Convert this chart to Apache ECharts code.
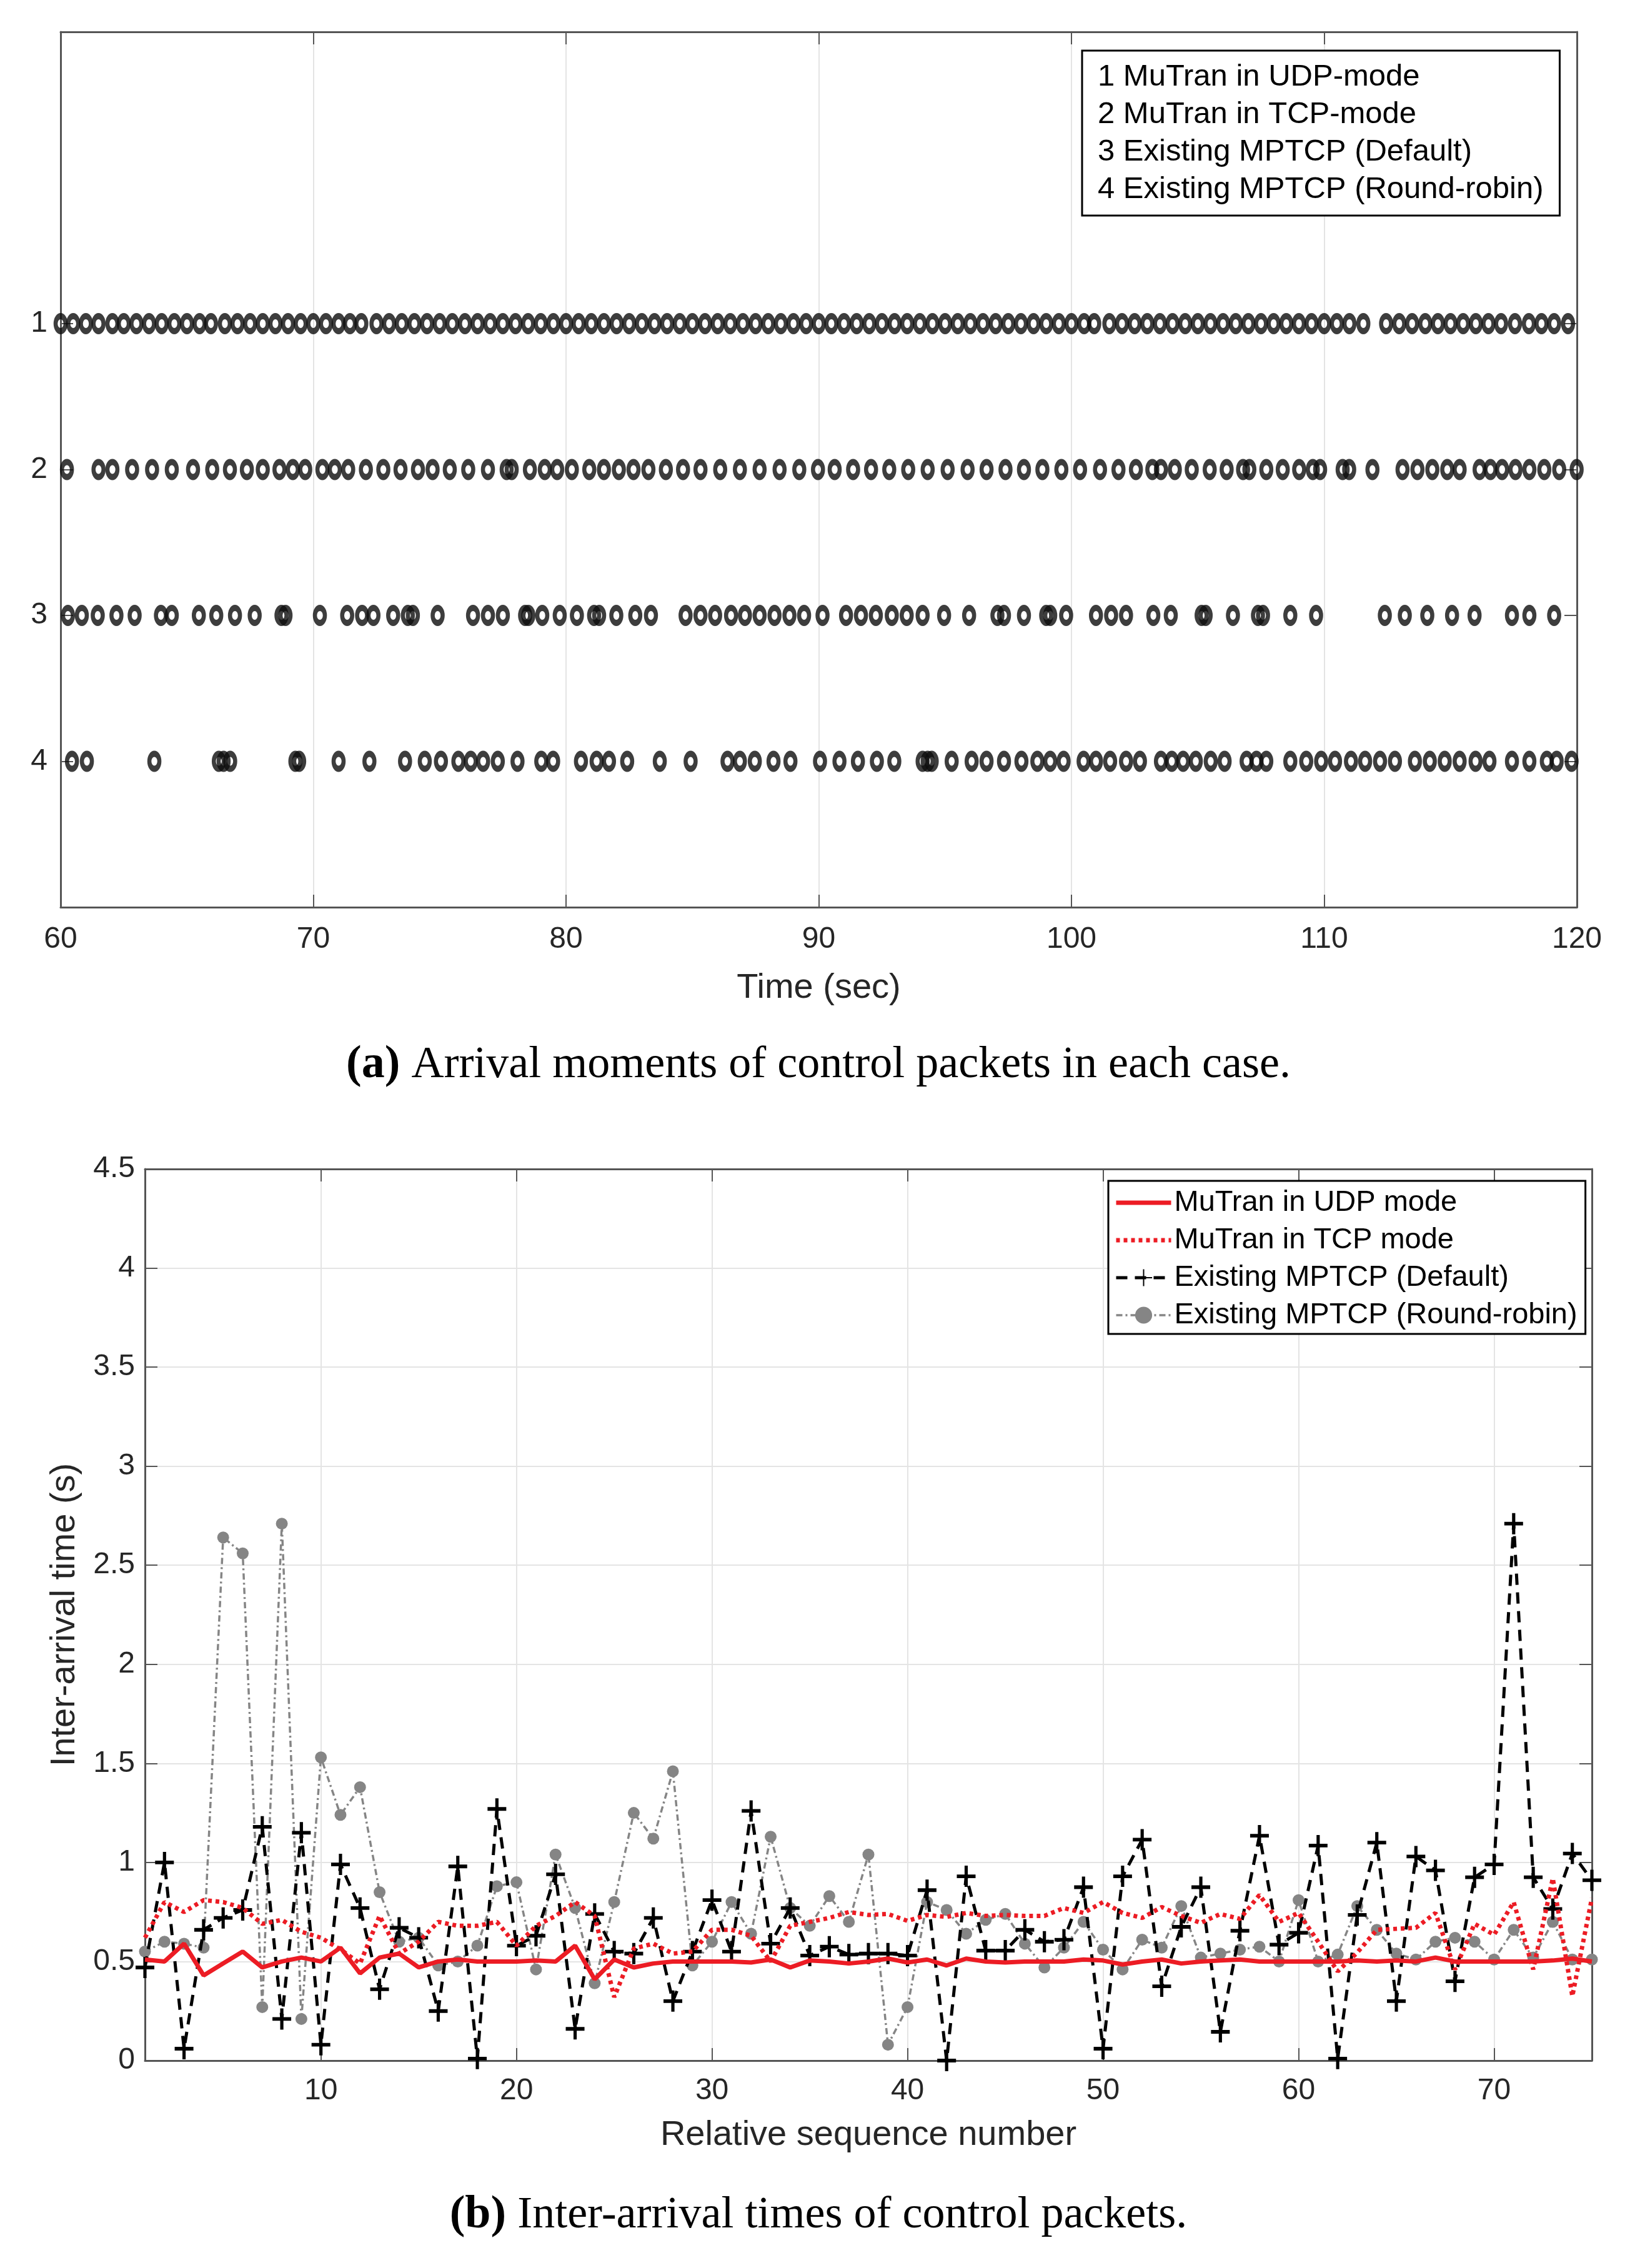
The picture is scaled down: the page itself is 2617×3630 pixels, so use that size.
<!DOCTYPE html>
<html>
<head>
<meta charset="utf-8">
<script src="https://cdn.jsdelivr.net/npm/echarts@6/dist/echarts.min.js"></script>
<style>
html,body{margin:0;padding:0;background:#ffffff;}
#chart{width:2617px;height:3630px;}
</style>
</head>
<body>
<div id="chart"></div>
<script>
// ---------------- DATA ----------------
// (a) arrival moments (sec) of control packets, one array per case (row)
const rowTicks = [1, 2, 3, 4];
const topNames = ['1 MuTran in UDP-mode', '2 MuTran in TCP-mode', '3 Existing MPTCP (Default)', '4 Existing MPTCP (Round-robin)'];
const arrivalsUDP = [60.0, 60.5, 61.0, 61.5, 62.05, 62.5, 63.0, 63.5, 64.0, 64.5, 65.0, 65.5, 65.95, 66.5, 67.0, 67.5, 68.0, 68.5, 69.0, 69.5, 70.0, 70.5, 71.0, 71.45, 71.9, 72.5, 73.0, 73.5, 74.0, 74.5, 75.0, 75.5, 76.0, 76.5, 77.0, 77.5, 78.0, 78.5, 79.0, 79.5, 80.0, 80.5, 81.0, 81.5, 82.0, 82.5, 83.0, 83.5, 84.0, 84.5, 85.0, 85.5, 86.0, 86.5, 87.0, 87.5, 88.0, 88.5, 89.0, 89.5, 90.0, 90.5, 91.0, 91.5, 92.0, 92.5, 93.0, 93.5, 94.0, 94.5, 95.0, 95.5, 96.0, 96.5, 97.0, 97.5, 98.0, 98.5, 99.0, 99.5, 100.0, 100.5, 100.9, 101.5, 102.0, 102.5, 103.0, 103.5, 104.0, 104.5, 105.0, 105.5, 106.0, 106.5, 107.0, 107.5, 108.0, 108.5, 109.0, 109.5, 110.0, 110.5, 111.0, 111.55, 112.45, 112.97, 113.48, 114.0, 114.5, 115.0, 115.5, 116.0, 116.5, 117.0, 117.55, 118.1, 118.6, 119.1, 119.65];
const arrivalsTCP = [60.25, 61.5, 62.05, 62.83, 63.62, 64.4, 65.24, 66.0, 66.7, 67.37, 68.0, 68.66, 69.19, 69.68, 70.36, 70.85, 71.38, 72.08, 72.77, 73.45, 74.14, 74.72, 75.4, 76.13, 76.91, 77.65, 77.85, 78.57, 79.16, 79.65, 80.23, 80.92, 81.5, 82.09, 82.67, 83.26, 83.95, 84.63, 85.32, 86.1, 86.88, 87.66, 88.45, 89.23, 89.97, 90.63, 91.36, 92.07, 92.79, 93.54, 94.31, 95.1, 95.89, 96.64, 97.39, 98.12, 98.85, 99.6, 100.34, 101.13, 101.86, 102.55, 103.2, 103.54, 104.09, 104.76, 105.47, 106.14, 106.79, 107.04, 107.71, 108.36, 109.01, 109.55, 109.84, 110.73, 110.99, 111.91, 113.1, 113.69, 114.28, 114.87, 115.36, 116.15, 116.58, 117.04, 117.57, 118.12, 118.71, 119.3, 119.99];
const arrivalsDefault = [60.29, 60.84, 61.47, 62.21, 62.93, 63.97, 64.4, 65.47, 66.16, 66.9, 67.68, 68.74, 68.9, 70.26, 71.34, 71.93, 72.38, 73.16, 73.74, 73.94, 74.92, 76.32, 76.91, 77.5, 78.38, 78.51, 79.06, 79.75, 80.43, 81.11, 81.31, 81.99, 82.74, 83.36, 84.73, 85.32, 85.9, 86.53, 87.08, 87.66, 88.25, 88.84, 89.42, 90.15, 91.08, 91.67, 92.26, 92.89, 93.48, 94.11, 94.96, 95.95, 97.07, 97.33, 98.12, 99.0, 99.16, 99.79, 100.97, 101.57, 102.16, 103.24, 103.93, 105.15, 105.31, 106.39, 107.38, 107.58, 108.66, 109.68, 112.4, 113.19, 114.08, 115.06, 115.95, 117.43, 118.12, 119.1];
const arrivalsRR = [60.45, 61.04, 63.71, 66.26, 66.45, 66.71, 69.29, 69.44, 71.0, 72.22, 73.63, 74.41, 75.05, 75.74, 76.23, 76.72, 77.3, 78.08, 79.02, 79.49, 80.59, 81.21, 81.7, 82.42, 83.71, 84.93, 86.39, 86.88, 87.47, 88.21, 88.88, 90.05, 90.82, 91.55, 92.3, 92.99, 94.11, 94.31, 94.47, 95.26, 96.05, 96.64, 97.33, 98.02, 98.65, 99.16, 99.69, 100.48, 100.97, 101.53, 102.16, 102.71, 103.54, 103.97, 104.42, 104.92, 105.51, 106.06, 106.93, 107.32, 107.71, 108.66, 109.29, 109.88, 110.43, 111.06, 111.62, 112.21, 112.8, 113.59, 114.18, 114.77, 115.36, 115.99, 116.54, 117.43, 118.12, 118.81, 119.2, 119.79];

// (b) inter-arrival times (s) vs relative sequence number
const bottomNames = ['MuTran in UDP mode', 'MuTran in TCP mode', 'Existing MPTCP (Default)', 'Existing MPTCP (Round-robin)'];
const seqNumbers = [1,2,3,4,5,6,7,8,9,10,11,12,13,14,15,16,17,18,19,20,21,22,23,24,25,26,27,28,29,30,31,32,33,34,35,36,37,38,39,40,41,42,43,44,45,46,47,48,49,50,51,52,53,54,55,56,57,58,59,60,61,62,63,64,65,66,67,68,69,70,71,72,73,74,75];
const seqTicks = [10, 20, 30, 40, 50, 60, 70];
const interUDP = [0.51, 0.50, 0.59, 0.43, 0.49, 0.55, 0.47, 0.50, 0.52, 0.50, 0.57, 0.44, 0.52, 0.54, 0.47, 0.50, 0.51, 0.50, 0.50, 0.50,
  0.505, 0.50, 0.58, 0.41, 0.51, 0.47, 0.49, 0.50, 0.50, 0.50, 0.50, 0.495, 0.51, 0.47, 0.505, 0.50, 0.49, 0.50, 0.515, 0.495,
  0.51, 0.48, 0.515, 0.50, 0.495, 0.50, 0.50, 0.50, 0.51, 0.505, 0.485, 0.50, 0.51, 0.49, 0.50, 0.505, 0.51, 0.50, 0.50, 0.50,
  0.50, 0.50, 0.505, 0.50, 0.505, 0.50, 0.52, 0.50, 0.50, 0.50, 0.50, 0.50, 0.505, 0.515, 0.50];
const interTCP = [0.62, 0.80, 0.75, 0.81, 0.80, 0.77, 0.69, 0.71, 0.65, 0.62, 0.56, 0.49, 0.73, 0.54, 0.60, 0.70, 0.68, 0.68, 0.70, 0.58,
  0.68, 0.73, 0.80, 0.73, 0.32, 0.565, 0.59, 0.54, 0.55, 0.66, 0.66, 0.63, 0.50, 0.68, 0.70, 0.72, 0.75, 0.735, 0.74, 0.705,
  0.735, 0.725, 0.745, 0.73, 0.735, 0.73, 0.73, 0.77, 0.745, 0.80, 0.745, 0.72, 0.775, 0.73, 0.695, 0.74, 0.715, 0.836, 0.70, 0.745,
  0.60, 0.45, 0.545, 0.66, 0.665, 0.67, 0.745, 0.46, 0.69, 0.635, 0.80, 0.46, 0.92, 0.325, 0.82];
const interDefault = [0.47, 1.00, 0.06, 0.66, 0.72, 0.76, 1.18, 0.21, 1.15, 0.08, 0.99, 0.77, 0.36, 0.67, 0.62, 0.25, 0.98, 0.01, 1.27, 0.58,
  0.63, 0.94, 0.16, 0.74, 0.55, 0.54, 0.72, 0.30, 0.55, 0.81, 0.55, 1.26, 0.59, 0.77, 0.53, 0.575, 0.535, 0.54, 0.54, 0.53,
  0.86, 0.00, 0.93, 0.555, 0.555, 0.66, 0.60, 0.61, 0.875, 0.06, 0.93, 1.115, 0.375, 0.675, 0.875, 0.145, 0.655, 1.135, 0.585, 0.645,
  1.085, 0.01, 0.735, 1.10, 0.30, 1.03, 0.96, 0.40, 0.925, 0.99, 2.71, 0.925, 0.765, 1.045, 0.91];
const interRR = [0.55, 0.60, 0.59, 0.57, 2.64, 2.56, 0.27, 2.71, 0.21, 1.53, 1.24, 1.38, 0.85, 0.60, 0.62, 0.48, 0.50, 0.58, 0.88, 0.90,
  0.46, 1.04, 0.77, 0.39, 0.80, 1.25, 1.12, 1.46, 0.48, 0.60, 0.80, 0.64, 1.13, 0.77, 0.68, 0.83, 0.70, 1.04, 0.08, 0.27,
  0.80, 0.76, 0.64, 0.71, 0.74, 0.59, 0.47, 0.57, 0.70, 0.56, 0.46, 0.61, 0.57, 0.78, 0.52, 0.54, 0.56, 0.575, 0.50, 0.81,
  0.50, 0.535, 0.78, 0.66, 0.54, 0.51, 0.60, 0.62, 0.60, 0.51, 0.66, 0.52, 0.70, 0.51, 0.51];

// ---------------- STYLE ----------------
const FONT = 'Liberation Sans';
const SERIF = 'Liberation Serif';
const axisCol = '#555555';
const txtCol = '#262626';
const gridCol = '#e4e4e4';
const red = '#ec1c24';
const grey = '#858585';

const udpLine = { color: red, width: 7 };
const tcpLine = { color: red, width: 7, type: [6, 6] };
const defLine = { color: '#000', width: 5, type: [18, 12] };
const rrLine = { color: grey, width: 3.5, type: [10, 5, 3, 5] };

function frameAxis(base) {
  return Object.assign({
    type: 'value',
    axisLine: { show: true, onZero: false, lineStyle: { color: axisCol, width: 3 } },
    axisTick: { show: true, inside: true, length: 20, lineStyle: { color: axisCol, width: 2 } },
    axisLabel: { show: false },
    splitLine: { show: false }
  }, base);
}
const tickLabel = { fontSize: 48, fontFamily: FONT, color: txtCol };
const nameStyle = { fontSize: 56, fontFamily: FONT, color: txtCol };

const chart = echarts.init(document.getElementById('chart'), null, { renderer: 'canvas' });

const option = {
  animation: false,
  backgroundColor: '#ffffff',
  grid: [
    { left: 97, top: 51, width: 2427, height: 1401 },
    { left: 232, top: 1871, width: 2316, height: 1427 }
  ],
  xAxis: [
    frameAxis({
      gridIndex: 0, min: 60, max: 120, interval: 10, position: 'bottom',
      axisLabel: Object.assign({ show: true, margin: 28 }, tickLabel),
      splitLine: { show: true, lineStyle: { color: gridCol, width: 2 } },
      name: 'Time (sec)', nameLocation: 'middle', nameGap: 102, nameTextStyle: nameStyle
    }),
    frameAxis({ gridIndex: 0, min: 60, max: 120, interval: 10, position: 'top' }),
    frameAxis({
      gridIndex: 1, min: 1, max: 75, position: 'bottom',
      axisTick: { show: true, inside: true, length: 20, customValues: seqTicks, lineStyle: { color: axisCol, width: 2 } },
      axisLabel: Object.assign({ show: true, margin: 25, customValues: seqTicks }, tickLabel),
      splitLine: { show: true, lineStyle: { color: gridCol, width: 2 } },
      name: 'Relative sequence number', nameLocation: 'middle', nameGap: 92, nameTextStyle: nameStyle
    }),
    frameAxis({
      gridIndex: 1, min: 1, max: 75, position: 'top',
      axisTick: { show: true, inside: true, length: 20, customValues: seqTicks, lineStyle: { color: axisCol, width: 2 } }
    })
  ],
  yAxis: [
    frameAxis({
      gridIndex: 0, min: -1, max: 5, interval: 1, inverse: true, position: 'left',
      axisTick: { show: true, inside: true, length: 20, customValues: rowTicks, lineStyle: { color: axisCol, width: 2 } },
      axisLabel: Object.assign({ show: true, margin: 21, customValues: rowTicks }, tickLabel)
    }),
    frameAxis({
      gridIndex: 0, min: -1, max: 5, interval: 1, inverse: true, position: 'right',
      axisTick: { show: true, inside: true, length: 20, customValues: rowTicks, lineStyle: { color: axisCol, width: 2 } }
    }),
    frameAxis({
      gridIndex: 1, min: 0, max: 4.5, interval: 0.5, position: 'left',
      axisLabel: Object.assign({ show: true, margin: 16 }, tickLabel),
      splitLine: { show: true, lineStyle: { color: gridCol, width: 2 } },
      name: 'Inter-arrival time (s)', nameLocation: 'middle', nameGap: 100, nameRotate: 90, nameTextStyle: nameStyle
    }),
    frameAxis({ gridIndex: 1, min: 0, max: 4.5, interval: 0.5, position: 'right' })
  ],
  legend: [
    {
      data: [
        { name: bottomNames[0], itemStyle: { opacity: 0 }, lineStyle: udpLine },
        { name: bottomNames[1], itemStyle: { opacity: 0 }, lineStyle: tcpLine },
        { name: bottomNames[2], lineStyle: defLine },
        { name: bottomNames[3], lineStyle: rrLine }
      ],
      orient: 'vertical', left: 1774, top: 1890,
      padding: [5, 13, 0, 9], itemWidth: 88, itemHeight: 34, itemGap: 0,
      borderColor: '#000', borderWidth: 3, backgroundColor: '#fff',
      selectedMode: false,
      textStyle: { fontSize: 47, fontFamily: FONT, color: '#000', lineHeight: 60 }
    },
    {
      data: topNames, orient: 'vertical', left: 1732, top: 81,
      padding: [12, 26, 12, 19], itemWidth: 0, itemHeight: 0, itemGap: 0, icon: 'rect',
      borderColor: '#000', borderWidth: 3, backgroundColor: '#fff',
      selectedMode: false,
      textStyle: { fontSize: 49, fontFamily: FONT, color: '#000', lineHeight: 60 }
    }
  ],
  graphic: [
    {
      type: 'text', x: 1310, y: 1705,
      style: {
        text: '{b|(a)} Arrival moments of control packets in each case.',
        fontSize: 72, fontFamily: SERIF, fill: '#000', align: 'center', verticalAlign: 'middle',
        rich: { b: { fontSize: 74, fontFamily: SERIF, fontWeight: 'bold', fill: '#000' } }
      }
    },
    {
      type: 'text', x: 1310, y: 3546,
      style: {
        text: '{b|(b)} Inter-arrival times of control packets.',
        fontSize: 72, fontFamily: SERIF, fill: '#000', align: 'center', verticalAlign: 'middle',
        rich: { b: { fontSize: 74, fontFamily: SERIF, fontWeight: 'bold', fill: '#000' } }
      }
    }
  ],
  series: []
};

const rows = [arrivalsUDP, arrivalsTCP, arrivalsDefault, arrivalsRR];
rows.forEach(function (arr, k) {
  option.series.push({
    type: 'scatter', name: topNames[k], xAxisIndex: 0, yAxisIndex: 0,
    data: arr.map(function (t) { return [t, rowTicks[k]]; }),
    symbol: 'circle', symbolSize: [16, 24],
    itemStyle: { color: 'rgba(0,0,0,0)', borderColor: '#0d0d0d', borderWidth: 8 },
    emphasis: { disabled: true }
  });
});

function pairs(vals) { return seqNumbers.map(function (s, i) { return [s, vals[i]]; }); }

option.series.push(
  {
    type: 'line', name: bottomNames[0], xAxisIndex: 2, yAxisIndex: 2, data: pairs(interUDP),
    symbol: 'none', lineStyle: udpLine, itemStyle: { color: red }, z: 5
  },
  {
    type: 'line', name: bottomNames[1], xAxisIndex: 2, yAxisIndex: 2, data: pairs(interTCP),
    symbol: 'none', lineStyle: tcpLine, itemStyle: { color: red }, z: 4
  },
  {
    type: 'line', name: bottomNames[2], xAxisIndex: 2, yAxisIndex: 2, data: pairs(interDefault),
    symbol: 'path://M0,-10V10M-10,0H10', symbolSize: [30, 34], showAllSymbol: true,
    lineStyle: defLine,
    itemStyle: { color: '#000', borderColor: '#000', borderWidth: 5.5 }, z: 3
  },
  {
    type: 'line', name: bottomNames[3], xAxisIndex: 2, yAxisIndex: 2, data: pairs(interRR),
    symbol: 'circle', symbolSize: 19, showAllSymbol: true,
    lineStyle: rrLine,
    itemStyle: { color: grey, borderWidth: 0 }, z: 2
  }
);

chart.setOption(option);
</script>
</body>
</html>
